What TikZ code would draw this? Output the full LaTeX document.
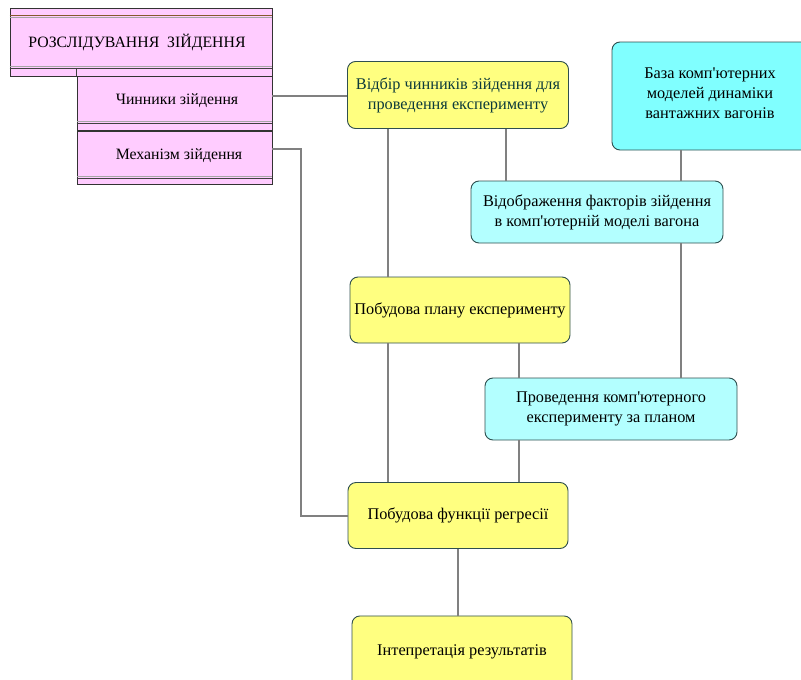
\documentclass[tikz,border=0pt]{standalone}
\usepackage{fontspec}
\setmainfont{Liberation Serif}[Ligatures=TeXOff]
\definecolor{pinkf}{HTML}{FFCCFF}
\definecolor{yelf}{HTML}{FFFF80}
\definecolor{cyanA}{HTML}{80FFFF}
\definecolor{cyanB}{HTML}{B3FFFF}
\definecolor{bord}{HTML}{2F4F4F}
\definecolor{conn}{HTML}{808080}
\definecolor{tealtext}{HTML}{0D3B3B}
\tikzset{
  rbox/.style={draw=bord, line width=0.9pt, rounded corners=8pt, align=center, inner sep=2pt,
    font=\fontsize{16.3}{20}\selectfont},
  ybox/.style={rbox, fill=yelf},
  cabox/.style={rbox, fill=cyanA},
  cbbox/.style={rbox, fill=cyanB},
  pbox/.style={draw=black!80, line width=0.8pt, fill=pinkf, align=center, inner sep=0pt},
  ptext/.style={font=\fontsize{15.8}{19}\selectfont},
  pline/.style={black!75, line width=0.8pt},
  gline/.style={black!35, line width=1pt},
  cline/.style={conn, line width=1.4pt},
}
\begin{document}
\begin{tikzpicture}[x=1pt,y=-1pt]
\useasboundingbox (0,0) rectangle (801,680);
% pink boxes
\node[pbox, minimum width=262, minimum height=68] (rozsl) at (141,42) {};
\node[ptext] (rozslt) at (137,42) {РОЗСЛІДУВАННЯ\ \ ЗІЙДЕННЯ};
\draw[pline, brown!70!black] ([yshift=-8pt]rozsl.north west) -- ([yshift=-8pt]rozsl.north east);
\draw[gline] ([yshift=-10pt]rozsl.north west) -- ([yshift=-10pt]rozsl.north east);
\draw[gline] ([yshift=10pt]rozsl.south west) -- ([yshift=10pt]rozsl.south east);
\draw[pline] ([yshift=8pt]rozsl.south west) -- ([yshift=8pt]rozsl.south east);
\node[pbox, minimum width=195, minimum height=54] (chyn) at (174.5,103) {};
\node[ptext] (chynt) at (177,101) {Чинники зійдення};
\draw[pline] (chyn.north west) -- ([yshift=8pt]rozsl.south west -| chyn.north west);
\draw[gline] ([yshift=9pt]chyn.south west) -- ([yshift=9pt]chyn.south east);
\draw[pline] ([yshift=7pt]chyn.south west) -- ([yshift=7pt]chyn.south east);
\node[pbox, minimum width=195, minimum height=53] (mekh) at (174.5,157.5) {};
\node[ptext] (mekht) at (179,156) {Механізм зійдення};
\draw[gline] ([yshift=8pt]mekh.south west) -- ([yshift=8pt]mekh.south east);
\draw[pline] ([yshift=6pt]mekh.south west) -- ([yshift=6pt]mekh.south east);
% rounded boxes
\node[ybox, minimum width=221, minimum height=67, text=tealtext] (vidbir) at (458,95) {Відбір чинників зійдення для\\проведення експерименту};
\node[cabox, minimum width=200, minimum height=108] (baza) at (712,96) {};
\node (bazat) at (710,93) [align=center, font=\fontsize{16.3}{20}\selectfont] {База комп'ютерних\\моделей динаміки\\вантажних вагонів};
\node[cbbox, minimum width=252, minimum height=62] (vidobr) at (597,212) {Відображення факторів зійдення\\в комп'ютерній моделі вагона};
\node[ybox, minimum width=220, minimum height=66] (plan) at (460,310) {Побудова плану експерименту};
\node[cbbox, minimum width=252, minimum height=62] (prov) at (611,409) {Проведення комп'ютерного\\експерименту за планом};
\node[ybox, minimum width=220, minimum height=66] (regr) at (458,515.5) {Побудова функції регресії};
\node[ybox, minimum width=220, minimum height=72, anchor=north] (interp) at (462,615.5) {Інтепретація результатів};
% connectors
\draw[cline] (chyn.east |- 0,96) -- (vidbir.west |- 0,96);
\draw[cline] (mekh.east |- 0,149) -- (301,149) -- (301,516) -- (regr.west |- 0,516);
\draw[cline] (vidbir.south -| 388,0) -- (plan.north -| 388,0);
\draw[cline] (plan.south -| 388,0) -- (regr.north -| 388,0);
\draw[cline] (vidbir.south -| 506,0) -- (vidobr.north -| 506,0);
\draw[cline] (baza.south -| 681,0) -- (vidobr.north -| 681,0);
\draw[cline] (vidobr.south -| 681,0) -- (prov.north -| 681,0);
\draw[cline] (plan.south -| 519,0) -- (prov.north -| 519,0);
\draw[cline] (prov.south -| 519,0) -- (regr.north -| 519,0);
\draw[cline] (regr.south -| 458,0) -- (interp.north -| 458,0);
\end{tikzpicture}
\end{document}
